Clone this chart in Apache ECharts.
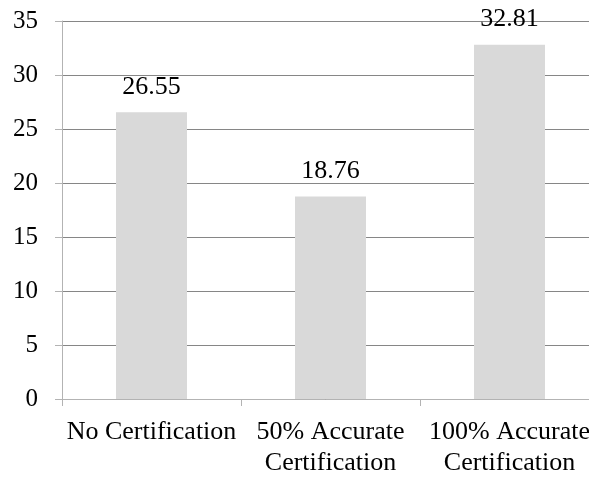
<!DOCTYPE html>
<html>
<head>
<meta charset="utf-8">
<script src="https://cdn.jsdelivr.net/npm/echarts@6/dist/echarts.min.js"></script>
<style>
  html, body { margin: 0; padding: 0; background: #fff; }
  #chart { width: 589px; height: 477px; }
</style>
</head>
<body>
<div id="chart"></div>
<script>
var categories = ['No Certification', '50% Accurate\nCertification', '100% Accurate\nCertification'];
var values = [26.55, 18.76, 32.81];
var yTicks = [0, 5, 10, 15, 20, 25, 30, 35];

var font = 'Liberation Serif, Times New Roman, serif';
var chart = echarts.init(document.getElementById('chart'));
var option = {
    animation: false,
    grid: {
        left: 62,
        width: 537,
        top: 21,
        bottom: 78,
        containLabel: false,
        outerBoundsMode: 'none'
    },
    xAxis: {
        type: 'category',
        data: categories,
        axisLine: { lineStyle: { color: '#b3b3b3', width: 1 } },
        axisTick: { show: true, length: 7, lineStyle: { color: '#b3b3b3' } },
        axisLabel: {
            color: '#000',
            fontFamily: font,
            fontSize: 26,
            lineHeight: 31,
            margin: 18,
            interval: 0
        }
    },
    yAxis: {
        type: 'value',
        min: yTicks[0],
        max: yTicks[yTicks.length - 1],
        interval: 5,
        axisLine: { show: true, lineStyle: { color: '#b3b3b3', width: 1 } },
        axisTick: { show: true, length: 7, lineStyle: { color: '#b3b3b3' } },
        axisLabel: {
            color: '#000',
            fontFamily: font,
            fontSize: 25,
            margin: 24
        },
        splitLine: { lineStyle: { color: '#868686', width: 1 } }
    },
    series: [{
        type: 'bar',
        data: values,
        barWidth: 71,
        itemStyle: { color: '#d9d9d9' },
        label: {
            show: true,
            position: 'top',
            distance: 12,
            color: '#000',
            fontFamily: font,
            fontSize: 26,
            formatter: function (p) { return p.value.toFixed(2); }
        }
    }]
};
chart.setOption(option);
</script>
</body>
</html>
